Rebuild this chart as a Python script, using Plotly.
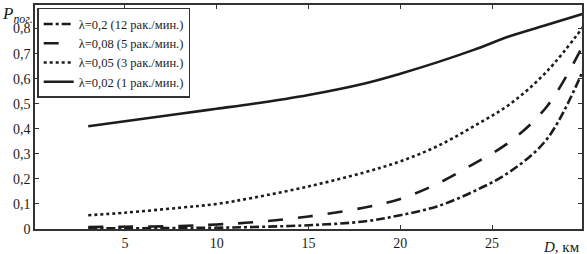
import plotly.graph_objects as go

# Data
D_km = [3, 5, 8, 10, 12, 15, 18, 20, 22, 24, 26, 28, 30]
p_l020 = [0.003, 0.003, 0.004, 0.005, 0.008, 0.015, 0.03, 0.055, 0.09, 0.15, 0.23, 0.36, 0.64]
p_l008 = [0.008, 0.009, 0.012, 0.018, 0.027, 0.05, 0.085, 0.12, 0.18, 0.26, 0.35, 0.49, 0.74]
p_l005 = [0.055, 0.065, 0.085, 0.10, 0.125, 0.17, 0.225, 0.27, 0.33, 0.41, 0.50, 0.63, 0.81]
p_l002 = [0.41, 0.43, 0.46, 0.48, 0.50, 0.535, 0.58, 0.62, 0.665, 0.715, 0.77, 0.815, 0.86]

series_names = ["λ=0,2 (12 рак./мин.)", "λ=0,08 (5 рак./мин.)",
                "λ=0,05 (3 рак./мин.)", "λ=0,02 (1 рак./мин.)"]
series_values = [p_l020, p_l008, p_l005, p_l002]
dashes = ["dashdot", "longdash", "dot", "solid"]

x_tickvals = [5, 10, 15, 20, 25]
x_ticktext = ["5", "10", "15", "20", "25"]
y_tickvals = [0, 0.1, 0.2, 0.3, 0.4, 0.5, 0.6, 0.7, 0.8]
y_ticktext = ["0", "0,1", "0,2", "0,3", "0,4", "0,5", "0,6", "0,7", "0,8"]

FONT = "Liberation Serif, Times New Roman, serif"
INK = "#1c1c1c"

fig = go.Figure()
for name, vals, dash in zip(series_names, series_values, dashes):
    fig.add_trace(go.Scatter(x=D_km, y=vals, mode="lines", name=name,
                             line=dict(color=INK, width=2.6, dash=dash, shape="spline")))

axis_common = dict(showgrid=False, zeroline=False, showline=True, linecolor="#333",
                   linewidth=1.5, mirror="ticks", ticks="inside", ticklen=4,
                   tickcolor="#333", tickfont=dict(family=FONT, size=14, color=INK))

fig.update_layout(
    width=587, height=254,
    margin=dict(l=35, r=4, t=3, b=24),
    paper_bgcolor="white", plot_bgcolor="white",
    font=dict(family=FONT, color=INK),
    xaxis=dict(range=[0.1, 29.9], tickvals=x_tickvals, ticktext=x_ticktext, **axis_common),
    yaxis=dict(range=[0, 0.894], tickvals=y_tickvals, ticktext=y_ticktext, **axis_common),
    legend=dict(x=0.004, y=0.987, xanchor="left", yanchor="top",
                bgcolor="white", bordercolor="#333", borderwidth=1.5,
                font=dict(family=FONT, size=12.5, color=INK),
                tracegroupgap=0, itemwidth=30),
    showlegend=True,
)

fig.add_annotation(xref="paper", yref="paper", x=-0.064, y=1.013, xanchor="left", yanchor="top",
                   text="<i>P<sub>пог.</sub></i>", showarrow=False,
                   font=dict(family=FONT, size=17, color=INK))
fig.add_annotation(xref="paper", yref="paper", x=1.0, y=-0.035, xanchor="right", yanchor="top",
                   text="<i>D</i>, км", showarrow=False,
                   font=dict(family=FONT, size=15, color=INK))

fig.write_html("out.html", config={"displayModeBar": False},
               post_script="document.body.style.margin='0';")
